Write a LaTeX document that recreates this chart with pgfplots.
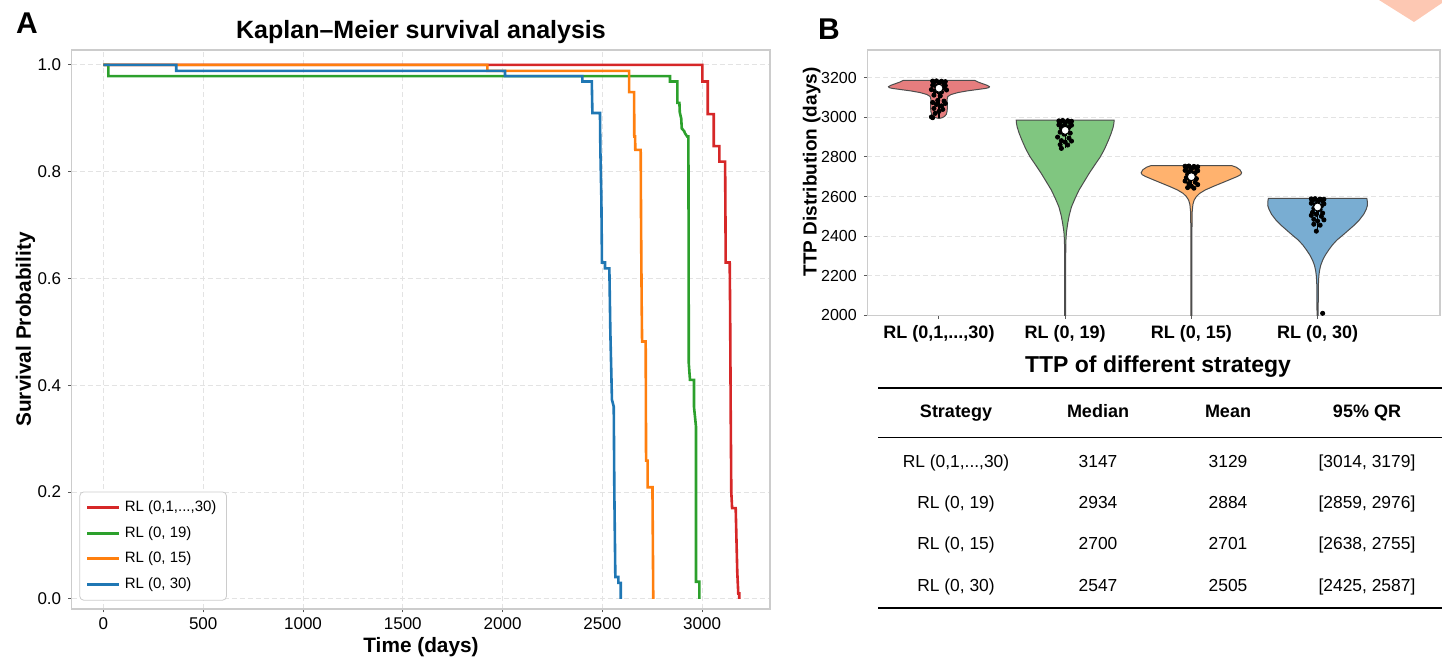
\documentclass[border=0pt]{standalone}
\usepackage{fontspec}
\setmainfont{Liberation Sans}
\usepackage{pgfplots}
\usepackage{pgfplotstable}
\pgfplotsset{compat=1.18}
\definecolor{tred}{HTML}{D62728}
\definecolor{tgreen}{HTML}{2CA02C}
\definecolor{torange}{HTML}{FF7F0E}
\definecolor{tblue}{HTML}{1F77B4}
\definecolor{vred}{HTML}{E67D7E}
\definecolor{vgreen}{HTML}{80C680}
\definecolor{vorange}{HTML}{FFB26E}
\definecolor{vblue}{HTML}{79ADD2}
\definecolor{vedge}{HTML}{4D4D4D}
\definecolor{framec}{HTML}{CCCCCC}
\definecolor{gridc}{HTML}{E3E3E3}
\definecolor{deco}{HTML}{FDC8B3}
\newcommand{\fs}[1]{\fontsize{#1pt}{#1pt}\selectfont}

\pgfplotstableread{
w y
0 2994
0.025 2998
0.045 3005
0.058 3015
0.064 3030
0.067 3050
0.066 3070
0.064 3090
0.070 3105
0.095 3115
0.150 3125
0.220 3133
0.300 3140
0.370 3146
0.395 3150
0.400 3155
0.380 3162
0.345 3170
0.310 3178
0.285 3186
-0.285 3186
-0.310 3178
-0.345 3170
-0.380 3162
-0.400 3155
-0.395 3150
-0.370 3146
-0.300 3140
-0.220 3133
-0.150 3125
-0.095 3115
-0.070 3105
-0.064 3090
-0.066 3070
-0.067 3050
-0.064 3030
-0.058 3015
-0.045 3005
-0.025 2998
}\vioR

\pgfplotstableread{
w y
0.004 1950
0.004 2300
0.006 2380
0.010 2420
0.020 2464
0.032 2505
0.050 2548
0.078 2590
0.110 2633
0.150 2675
0.190 2717
0.235 2760
0.278 2800
0.312 2840
0.344 2886
0.365 2920
0.380 2950
0.386 2970
0.388 2986
-0.388 2986
-0.386 2970
-0.380 2950
-0.365 2920
-0.344 2886
-0.312 2840
-0.278 2800
-0.235 2760
-0.190 2717
-0.150 2675
-0.110 2633
-0.078 2590
-0.050 2548
-0.032 2505
-0.020 2464
-0.010 2420
-0.006 2380
-0.004 2300
-0.004 1950
}\vioG

\pgfplotstableread{
w y
0.004 1950
0.004 2400
0.006 2520
0.012 2560
0.022 2582
0.040 2600
0.066 2616
0.110 2633
0.170 2650
0.235 2667
0.300 2684
0.360 2700
0.390 2710
0.398 2720
0.385 2735
0.355 2748
0.320 2756
-0.320 2756
-0.355 2748
-0.385 2735
-0.398 2720
-0.390 2710
-0.360 2700
-0.300 2684
-0.235 2667
-0.170 2650
-0.110 2633
-0.066 2616
-0.040 2600
-0.022 2582
-0.012 2560
-0.006 2520
-0.004 2400
-0.004 1950
}\vioO

\pgfplotstableread{
w y
0.004 1950
0.006 2150
0.010 2200
0.016 2228
0.025 2253
0.040 2278
0.060 2303
0.087 2329
0.117 2355
0.153 2380
0.200 2405
0.245 2430
0.290 2455
0.330 2481
0.365 2510
0.385 2535
0.395 2555
0.394 2575
0.390 2591
-0.390 2591
-0.394 2575
-0.395 2555
-0.385 2535
-0.365 2510
-0.330 2481
-0.290 2455
-0.245 2430
-0.200 2405
-0.153 2380
-0.117 2355
-0.087 2329
-0.060 2303
-0.040 2278
-0.025 2253
-0.016 2228
-0.010 2200
-0.006 2150
-0.004 1950
}\vioB

\pgfplotsset{
  common/.style={
    scale only axis,
    anchor=south west,
    axis line style={framec, line width=0.6pt},
    tick align=outside,
    major tick length=1.75pt,
    tick style={black!65, line width=0.5pt},
    xtick pos=lower, ytick pos=left,
    /pgf/number format/assume math mode=true,
    /pgf/number format/1000 sep={},
    ticklabel style={font=\fs{8.5}},
    major grid style={gridc, dash pattern=on 2.5pt off 1.5pt, line width=0.5pt},
  }
}

\begin{document}
\begin{tikzpicture}[x=0.5pt,y=0.5pt]
\path[use as bounding box] (0,0) rectangle (1442,658);
\fill[deco] (1379,658) -- (1442,658) -- (1442,655) -- (1414,636) -- cycle;

% ---------------- Panel A ----------------
\begin{axis}[common,
  at={(35.85pt,24.5pt)}, width=349.15pt, height=279.5pt,
  xmin=-159, xmax=3340, ymin=-0.019, ymax=1.028,
  xtick={0,500,1000,1500,2000,2500,3000},
  ytick={0,0.2,0.4,0.6,0.8,1.0},
  xticklabel style={yshift=1pt},
  yticklabel style={/pgf/number format/fixed, /pgf/number format/precision=1, /pgf/number format/fixed zerofill},
  xmajorgrids, ymajorgrids,
  legend style={at={(axis description cs:0.011,0.015)}, anchor=south west,
    draw=framec, rounded corners=2pt, font=\fs{7.5}, inner xsep=3pt, inner ysep=2.5pt,
    row sep=1.8pt, cells={anchor=west}},
  legend image code/.code={\draw[#1, line width=1.5pt, sharp corners, line cap=butt] (0pt,0pt) -- (16pt,0pt);},
]
\addplot[tred, line width=1.3pt] coordinates {(0,1) (3001,1) (3001,0.969) (3028,0.969) (3028,0.908) (3058,0.908) (3058,0.848) (3086,0.848) (3086,0.819) (3115,0.819) (3117,0.70) (3118,0.63) (3138,0.63) (3140,0.55) (3143,0.354) (3146,0.20) (3150,0.17) (3168,0.17) (3172,0.11) (3176,0.05) (3181,0.01) (3186,0.01) (3186,0)};
\addlegendentry{RL (0,1,.{}.{}.,30)}
\addplot[tgreen, line width=1.3pt] coordinates {(0,1) (25,1) (25,0.979) (2839,0.979) (2839,0.969) (2876,0.969) (2876,0.929) (2886,0.929) (2888,0.911) (2895,0.90) (2898,0.881) (2910,0.876) (2914,0.872) (2925,0.866) (2931,0.866) (2932,0.70) (2933,0.441) (2939,0.41) (2959,0.41) (2959,0.36) (2969,0.323) (2969,0.032) (2986,0.032) (2986,0)};
\addlegendentry{RL (0, 19)}
\addplot[torange, line width=1.3pt] coordinates {(0,1) (1924,1) (1924,0.989) (2634,0.989) (2634,0.949) (2659,0.949) (2660,0.866) (2664,0.866) (2665,0.841) (2692,0.841) (2694,0.70) (2697,0.55) (2699,0.482) (2717,0.482) (2719,0.259) (2727,0.259) (2727,0.209) (2751,0.209) (2755,0)};
\addlegendentry{RL (0, 15)}
\addplot[tblue, line width=1.3pt] coordinates {(0,1) (365,1) (365,0.989) (2012,0.989) (2012,0.979) (2400,0.979) (2400,0.969) (2447,0.969) (2450,0.910) (2488,0.910) (2490,0.841) (2495,0.75) (2498,0.63) (2513,0.63) (2513,0.619) (2535,0.619) (2540,0.50) (2548,0.373) (2557,0.36) (2560,0.20) (2565,0.041) (2580,0.041) (2580,0.03) (2592,0.03) (2592,0)};
\addlegendentry{RL (0, 30)}
\end{axis}

% ---------------- Panel B ----------------
\begin{axis}[common,
  at={(433.65pt,171.35pt)}, width=286.35pt, height=132.65pt,
  xmin=-0.568, xmax=3.97, ymin=2000, ymax=3340,
  xtick={0,1,2,3},
  xticklabels={{RL (0,1,.{}.{}.,30)},{RL (0, 19)},{RL (0, 15)},{RL (0, 30)}},
  xticklabel style={font=\bfseries\fs{9}},
  yticklabel style={font=\fs{8}},
  ytick={2000,2200,2400,2600,2800,3000,3200},
  ymajorgrids,
]
\addplot[fill=vred, draw=vedge, line width=0.5pt] table[x expr=\thisrow{w}+0, y=y] {\vioR} -- cycle;
\addplot[fill=vgreen, draw=vedge, line width=0.5pt] table[x expr=\thisrow{w}+1, y=y] {\vioG} -- cycle;
\addplot[fill=vorange, draw=vedge, line width=0.5pt] table[x expr=\thisrow{w}+2, y=y] {\vioO} -- cycle;
\addplot[fill=vblue, draw=vedge, line width=0.5pt] table[x expr=\thisrow{w}+3, y=y] {\vioB} -- cycle;
% inner box (whiskers and IQR)
\addplot[black, line width=0.6pt] coordinates {(0,2998) (0,3186)};
\addplot[black, line width=0.6pt] coordinates {(1,2843) (1,2986)};
\addplot[black, line width=0.6pt] coordinates {(2,2642) (2,2756)};
\addplot[black, line width=0.6pt] coordinates {(3,2425) (3,2591)};
\addplot[black, line width=1.6pt] coordinates {(0,3118) (0,3178)};
\addplot[black, line width=1.6pt] coordinates {(1,2905) (1,2968)};
\addplot[black, line width=1.6pt] coordinates {(2,2680) (2,2728)};
\addplot[black, line width=1.6pt] coordinates {(3,2508) (3,2572)};
% strip points
\addplot[only marks, mark=*, mark size=1.05pt, black] coordinates {
(-0.05,3183) (-0.02,3184) (0.02,3182) (0.05,3180) (-0.04,3175) (0.04,3172) (0.0,3168) (-0.05,3162) (0.05,3160) (-0.02,3155) (0.03,3150) (-0.06,3140) (0.06,3138) (-0.03,3132) (0.02,3128) (-0.04,3112) (0.01,3108) (-0.01,3085) (0.04,3082) (-0.05,3075) (0.05,3070) (-0.02,3065) (0.02,3058) (-0.04,3045) (0.03,3040) (0.0,3030) (-0.03,3020) (-0.06,3002) (-0.05,2998)
(0.95,2982) (0.98,2984) (1.02,2983) (1.05,2980) (0.96,2975) (1.04,2972) (1.0,2968) (0.95,2962) (1.05,2960) (0.98,2955) (1.03,2950) (0.97,2945) (1.02,2940) (0.96,2925) (1.04,2920) (0.99,2915) (0.94,2900) (1.03,2895) (0.97,2882) (1.05,2880) (1.0,2875) (0.96,2862) (1.02,2860) (0.97,2843)
(1.95,2753) (1.98,2754) (2.02,2752) (2.05,2750) (1.96,2745) (2.04,2742) (2.0,2738) (1.95,2732) (2.05,2730) (1.98,2725) (2.03,2720) (1.97,2712) (2.02,2706) (1.96,2695) (2.04,2690) (1.99,2685) (1.95,2678) (2.03,2672) (1.98,2665) (2.05,2660) (2.0,2652) (1.97,2645) (2.02,2642)
(2.95,2588) (2.98,2589) (3.02,2587) (3.05,2586) (2.96,2580) (3.04,2576) (3.0,2572) (2.95,2566) (3.05,2563) (2.98,2558) (3.03,2552) (2.97,2540) (3.02,2535) (2.96,2520) (3.04,2516) (2.99,2510) (2.95,2505) (3.03,2500) (2.97,2485) (3.05,2482) (3.0,2476) (2.97,2460) (3.02,2455) (2.99,2425) (3.04,2010)
};
\addplot[only marks, mark=*, mark size=2pt, fill=white, draw=black, line width=0.5pt] coordinates {(0,3147) (1,2934) (2,2700) (3,2547)};
\end{axis}

% ---------------- texts ----------------
\node[font=\bfseries\fs{15}, anchor=base west] at (9,624) {A};
\node[font=\bfseries\fs{15}, anchor=base west] at (811,618) {B};
\node[font=\bfseries\fs{12.5}, anchor=base] at (421,619) {Kaplan\textendash Meier survival analysis};
\node[font=\bfseries\fs{10.4}, anchor=base] at (421,5.5) {Time (days)};
\node[font=\bfseries\fs{10.4}, anchor=base, rotate=90] at (31,328.5) {Survival Probability};
\node[font=\bfseries\fs{9.5}, anchor=base, rotate=90] at (816.5,486) {TTP Distribution (days)};

% ---------------- table ----------------
\node[font=\bfseries\fs{11.5}, anchor=base] at (1158,285) {TTP of different strategy};
\draw[line width=1pt] (878,270) -- (1442,270);
\draw[line width=0.5pt] (878,220) -- (1442,220);
\draw[line width=1pt] (878,50) -- (1442,50);
\begin{scope}[every node/.style={anchor=base, font=\bfseries\fs{9}}]
\node at (956,240) {Strategy};
\node at (1098,240) {Median};
\node at (1228,240) {Mean};
\node at (1367,240) {95\% QR};
\end{scope}
\begin{scope}[every node/.style={anchor=base, font=\fs{8.7}}]
\node at (956,190.5) {RL (0,1,...,30)};
\node at (1098,190.5) {3147};
\node at (1228,190.5) {3129};
\node at (1367,190.5) {[3014, 3179]};
\node at (956,149.5) {RL (0, 19)};
\node at (1098,149.5) {2934};
\node at (1228,149.5) {2884};
\node at (1367,149.5) {[2859, 2976]};
\node at (956,108.5) {RL (0, 15)};
\node at (1098,108.5) {2700};
\node at (1228,108.5) {2701};
\node at (1367,108.5) {[2638, 2755]};
\node at (956,66.5) {RL (0, 30)};
\node at (1098,66.5) {2547};
\node at (1228,66.5) {2505};
\node at (1367,66.5) {[2425, 2587]};
\end{scope}
\end{tikzpicture}
\end{document}
